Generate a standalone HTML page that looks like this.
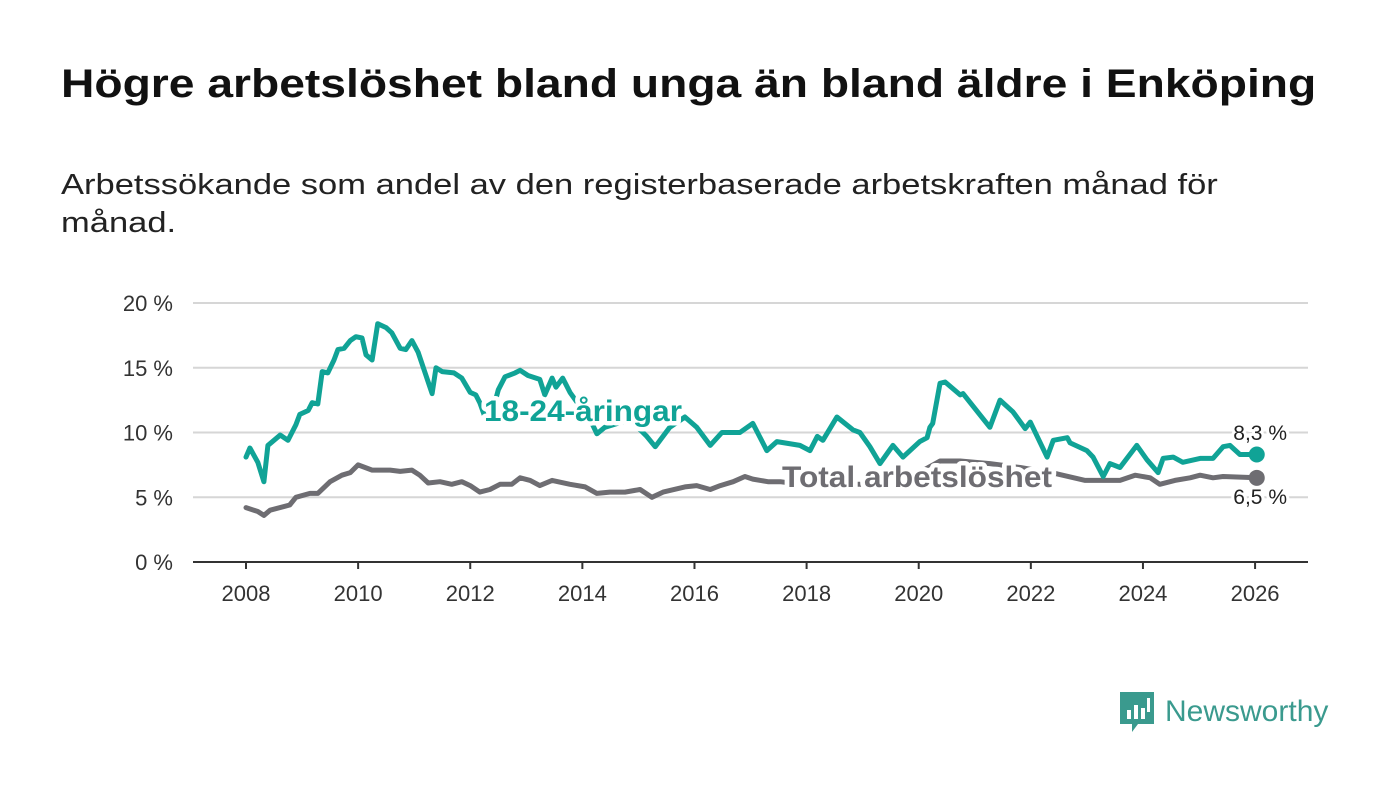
<!DOCTYPE html>
<html><head><meta charset="utf-8"><style>
body{margin:0;background:#fff;font-family:"Liberation Sans",sans-serif;}
#wrap{position:relative;width:1400px;height:794px;overflow:hidden;}
h1{position:absolute;left:61px;top:62px;margin:0;font-size:40px;font-weight:bold;color:#111;white-space:nowrap;transform-origin:0 0;transform:scaleX(1.155);}
p.sub{position:absolute;left:61px;top:166px;margin:0;font-size:29px;line-height:38px;color:#222;white-space:nowrap;transform-origin:0 0;transform:scaleX(1.19);}
</style></head><body>
<div id="wrap">
<h1>Högre arbetslöshet bland unga än bland äldre i Enköping</h1>
<p class="sub">Arbetssökande som andel av den registerbaserade arbetskraften månad för<br>månad.</p>
<svg id="chart" width="1400" height="794" style="position:absolute;left:0;top:0"></svg>
<div style="position:absolute;left:1118px;top:690px;display:flex;align-items:center;">
<svg width="38" height="44"><path d="M2 2h34v32H20l-6 8v-8H2z" fill="#3a9a8e"/><rect x="9" y="20" width="4" height="9" fill="#fff"/><rect x="16" y="15" width="4" height="14" fill="#fff"/><rect x="23" y="18" width="4" height="11" fill="#fff"/><rect x="29" y="8" width="3" height="14" fill="#fff"/></svg>
<span style="font-size:30px;color:#3a9a8e;margin-left:9px;font-weight:500">Newsworthy</span>
</div>
</div>
<script>
const yTicks=[0,5,10,15,20];
const xTicks=[2008,2010,2012,2014,2016,2018,2020,2022,2024,2026];
const youthDates=[2008.00,2008.07,2008.21,2008.32,2008.39,2008.61,2008.75,2008.89,2008.96,2009.11,2009.18,2009.28,2009.36,2009.46,2009.57,2009.64,2009.75,2009.86,2009.96,2010.07,2010.14,2010.25,2010.35,2010.50,2010.60,2010.75,2010.85,2010.96,2011.07,2011.21,2011.32,2011.39,2011.50,2011.71,2011.85,2012.00,2012.10,2012.17,2012.28,2012.39,2012.50,2012.62,2012.80,2012.89,2013.03,2013.24,2013.33,2013.46,2013.53,2013.65,2013.78,2013.96,2014.14,2014.26,2014.40,2014.55,2014.85,2015.15,2015.30,2015.56,2015.83,2016.04,2016.28,2016.49,2016.81,2017.04,2017.29,2017.47,2017.88,2018.06,2018.19,2018.29,2018.54,2018.83,2018.95,2019.13,2019.31,2019.54,2019.72,2020.02,2020.15,2020.20,2020.25,2020.38,2020.47,2020.74,2020.79,2021.27,2021.45,2021.68,2021.90,2021.99,2022.29,2022.40,2022.65,2022.70,2023.00,2023.11,2023.29,2023.41,2023.59,2023.89,2024.07,2024.27,2024.36,2024.54,2024.71,2025.02,2025.25,2025.43,2025.55,2025.73,2026.03];
const youthValues=[8.1,8.8,7.7,6.2,9.0,9.8,9.4,10.6,11.4,11.7,12.3,12.2,14.7,14.6,15.6,16.4,16.5,17.1,17.4,17.3,16.0,15.6,18.4,18.1,17.7,16.5,16.4,17.1,16.2,14.4,13.0,15.0,14.7,14.6,14.2,13.1,12.9,12.3,11.0,11.5,13.3,14.3,14.6,14.8,14.4,14.1,12.9,14.2,13.5,14.2,13.1,12.0,11.0,9.9,10.4,10.6,11.0,9.7,8.9,10.4,11.2,10.4,9.0,10.0,10.0,10.7,8.6,9.3,9.0,8.6,9.7,9.4,11.2,10.2,10.0,8.9,7.6,9.0,8.1,9.3,9.6,10.4,10.7,13.8,13.9,12.9,13.0,10.4,12.5,11.6,10.3,10.8,8.1,9.4,9.6,9.2,8.6,8.1,6.6,7.6,7.3,9.0,7.9,6.9,8.0,8.1,7.7,8.0,8.0,8.9,9.0,8.3,8.3];
const totalDates=[2008.00,2008.21,2008.32,2008.43,2008.78,2008.89,2009.14,2009.28,2009.50,2009.71,2009.86,2010.00,2010.25,2010.57,2010.75,2010.96,2011.10,2011.25,2011.46,2011.67,2011.85,2012.00,2012.17,2012.35,2012.53,2012.74,2012.89,2013.07,2013.24,2013.46,2013.78,2014.05,2014.26,2014.49,2014.76,2015.03,2015.24,2015.44,2015.83,2016.04,2016.28,2016.46,2016.69,2016.90,2017.04,2017.31,2017.53,2017.88,2018.42,2018.95,2019.31,2019.84,2020.38,2020.74,2021.27,2021.81,2022.47,2022.97,2023.23,2023.59,2023.86,2024.13,2024.30,2024.57,2024.84,2025.02,2025.25,2025.43,2026.03];
const totalValues=[4.2,3.9,3.6,4.0,4.4,5.0,5.3,5.3,6.2,6.7,6.9,7.5,7.1,7.1,7.0,7.1,6.7,6.1,6.2,6.0,6.2,5.9,5.4,5.6,6.0,6.0,6.5,6.3,5.9,6.3,6.0,5.8,5.3,5.4,5.4,5.6,5.0,5.4,5.8,5.9,5.6,5.9,6.2,6.6,6.4,6.2,6.2,6.0,6.0,6.0,5.8,6.5,7.8,7.8,7.6,7.3,6.8,6.3,6.3,6.3,6.7,6.5,6.0,6.3,6.5,6.7,6.5,6.6,6.5];
const endLabels=["8,3 %","6,5 %"];

const NS="http://www.w3.org/2000/svg";
const svg=document.getElementById('chart');
const X=y=>246+(y-2008)*56.06;
const Y=v=>562-v*12.95;
function mk(t,a,p){const e=document.createElementNS(NS,t);for(const k in a)e.setAttribute(k,a[k]);(p||svg).appendChild(e);return e;}
yTicks.forEach(t=>{
  const l=mk('line',{x1:193,x2:1308,y1:Y(t),y2:Y(t),stroke:t===0?'#333':'#d6d6d6','stroke-width':2});
  
  
  const tx=mk('text',{x:173,y:Y(t)+8,'text-anchor':'end','font-size':22,fill:'#333','font-family':'Liberation Sans, sans-serif'});
  tx.textContent=t+' %';
  
  
});
xTicks.forEach(t=>{
  const l=mk('line',{x1:X(t),x2:X(t),y1:562,y2:569,stroke:'#333','stroke-width':2});
  
  
  const tx=mk('text',{x:X(t),y:601,'text-anchor':'middle','font-size':22,fill:'#333','font-family':'Liberation Sans, sans-serif'});
  tx.textContent=t;
  
  
});
function line(d,v,c,name){
  const p=mk('path',{d:d.map((x,i)=>(i?'L':'M')+X(x).toFixed(1)+' '+Y(v[i]).toFixed(1)).join(''),fill:'none',stroke:c,'stroke-width':5,'stroke-linejoin':'round','stroke-linecap':'round'});
  
  
  const n=d.length-1;
  const dot=mk('circle',{cx:X(d[n]),cy:Y(v[n]),r:8,fill:c});
  
  
}
line(totalDates,totalValues,'#6e6d72','total-line');
line(youthDates,youthValues,'#10a396','youth-line');
function lab(x,y,t,c,w,name){
  const e=mk('text',{x:x,y:y,'font-size':30,'font-weight':'bold',fill:c,stroke:'#fff','stroke-width':9,'paint-order':'stroke','stroke-linejoin':'round',textLength:w,lengthAdjust:'spacingAndGlyphs','font-family':'Liberation Sans, sans-serif'});
  e.textContent=t;
  
  
}
lab(484,421,'18-24-åringar','#10a396',198,'youth-series-label');
lab(782,487,'Total arbetslöshet','#6e6d72',270,'total-series-label');
function endLab(y,t,name){
  const e=mk('text',{x:1287,y:y,'text-anchor':'end','font-size':21,fill:'#222',stroke:'#fff','stroke-width':6,'paint-order':'stroke','font-family':'Liberation Sans, sans-serif'});
  e.textContent=t;
  
  
}
endLab(440,endLabels[0],'youth-end-value');
endLab(504,endLabels[1],'total-end-value');
</script>
</body></html>
